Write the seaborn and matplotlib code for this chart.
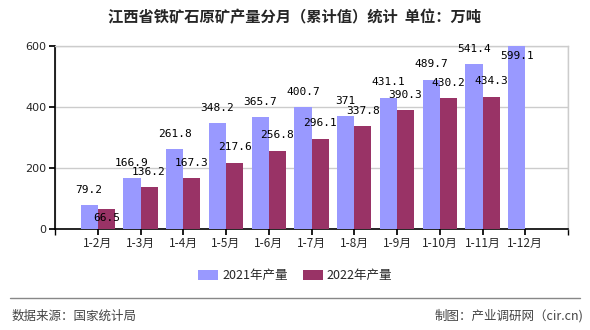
import numpy as np
import pandas as pd
import matplotlib
matplotlib.use("Agg")
import matplotlib.pyplot as plt
import seaborn as sns

categories = ["1-2月", "1-3月", "1-4月", "1-5月", "1-6月", "1-7月", "1-8月", "1-9月", "1-10月", "1-11月", "1-12月"]
values_2021 = [79.2, 166.9, 261.8, 348.2, 365.7, 400.7, 371, 431.1, 489.7, 541.4, 599.1]
values_2022 = [66.5, 136.2, 167.3, 217.6, 256.8, 296.1, 337.8, 390.3, 430.2, 434.3, np.nan]
series_names = ["2021年产量", "2022年产量"]
colors = ["#9999FF", "#993366"]
yticks = [0, 200, 400, 600]

df = pd.DataFrame({
    "cat": categories * 2,
    "val": values_2021 + values_2022,
    "series": [series_names[0]] * len(categories) + [series_names[1]] * len(categories),
})

sns.set_theme(style="white")
plt.rcParams["font.family"] = ["Noto Sans CJK SC", "DejaVu Sans"]

fig = plt.figure(figsize=(5.9, 3.3), dpi=100)
ax = fig.add_axes([55 / 590, 1 - 229 / 330, 513 / 590, 183 / 330])

sns.barplot(data=df, x="cat", y="val", hue="series", palette=colors,
            width=0.8, saturation=1, ax=ax, zorder=3, legend=True,
            linewidth=0, edgecolor="none")

ax.set_xlim(-1, len(categories))
ax.set_ylim(0, 600)
ax.set_yticks(yticks)
ax.set_yticklabels([str(t) for t in yticks], fontsize=8, family="DejaVu Sans")
ax.set_xlabel("")
ax.set_ylabel("")

# grid
ax.set_xticks(range(-1, len(categories) + 1), minor=True)
ax.grid(True, which="major", axis="y", color="#cccccc", linewidth=1, zorder=0)
ax.grid(True, which="minor", axis="x", color="#cccccc", linewidth=1, zorder=0)
ax.set_xticks(range(len(categories)))
ax.set_xticklabels(categories, fontsize=8.5)
ax.tick_params(axis="x", which="both", length=4, color="black", direction="out", bottom=True, pad=2)
ax.tick_params(axis="y", which="both", length=4, color="black", direction="out", left=True, pad=2)
ax.tick_params(axis="x", which="minor", labelbottom=False)

for s in ["top", "right"]:
    ax.spines[s].set_color("#cccccc")
    ax.spines[s].set_linewidth(1)
for s in ["left", "bottom"]:
    ax.spines[s].set_color("black")
    ax.spines[s].set_linewidth(1.2)

# value labels
ymax = ax.get_ylim()[1]
for ci, cont in enumerate(ax.containers):
    vals = values_2021 if ci == 0 else values_2022
    for p, v in zip(cont.patches, vals):
        if v is None or (isinstance(v, float) and np.isnan(v)):
            continue
        x = p.get_x() + p.get_width() / 2
        h = p.get_height()
        txt = f"{v:g}"
        offset = 11
        if ci == 1 and v < 100:
            offset = -7
        if h > ymax * 0.97:
            offset = -7
        ax.annotate(txt, (x, h), xytext=(0, offset), textcoords="offset points",
                    ha="center", va="center", fontsize=8, family="DejaVu Sans Mono",
                    color="black", zorder=5)

# legend (centered on the figure)
handles, labels = ax.get_legend_handles_labels()
ax.get_legend().remove()
fig.legend(handles, labels, loc="center", bbox_to_anchor=(0.5, 1 - 276 / 330), ncol=2, frameon=False,
           fontsize=9, handlelength=1.6, handleheight=0.9, columnspacing=1.2, handletextpad=0.3)

fig.text(0.5, 1 - 17 / 330, "江西省铁矿石原矿产量分月（累计值）统计  单位：万吨", ha="center", va="center",
         fontsize=11, weight="bold")

fig.add_artist(plt.Line2D([10 / 590, 580 / 590], [1 - 298 / 330, 1 - 298 / 330], color="#888888", linewidth=1))
fig.text(12 / 590, 1 - 316 / 330, "数据来源：国家统计局", ha="left", va="center", fontsize=9, color="#444444")
fig.text(583 / 590, 1 - 316 / 330, "制图：产业调研网（cir.cn)", ha="right", va="center", fontsize=9, color="#444444")

fig.savefig("out.png", dpi=100, facecolor="white")
